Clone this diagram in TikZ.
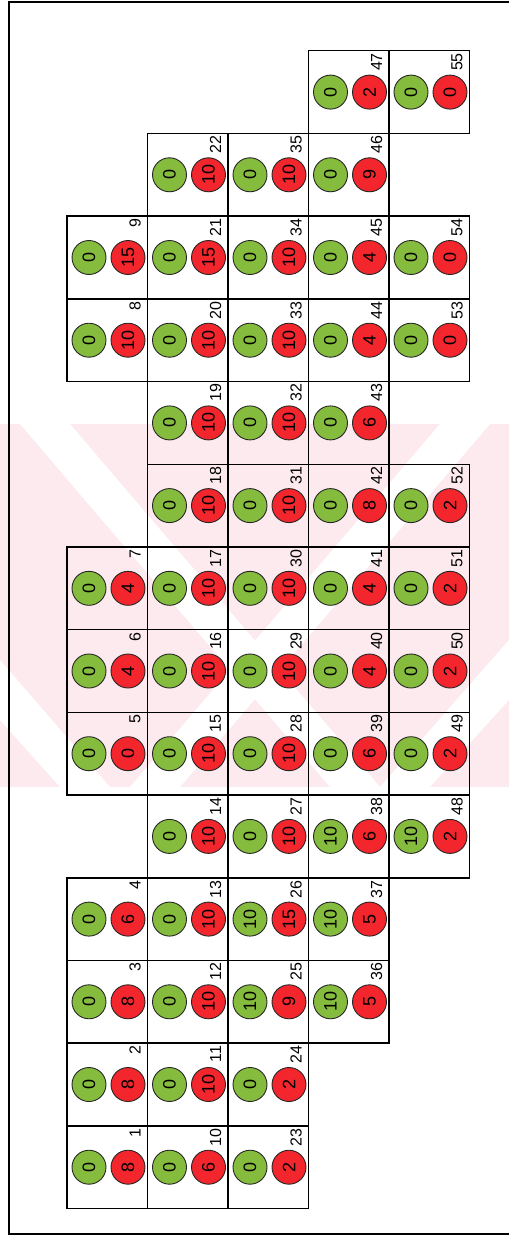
\documentclass[tikz,border=0pt]{standalone}
\usepackage{fontspec}
\setmainfont{Liberation Sans}
\definecolor{dotgreen}{RGB}{134,188,62}
\definecolor{dotred}{RGB}{242,38,44}
\definecolor{wmpink}{RGB}{252,234,238}
\tikzset{
  cellbox/.style={draw=black, line width=1.5pt, minimum width=80.5pt, minimum height=82.7pt, inner sep=0pt, anchor=north west},
  gdot/.style={circle, draw=black!85, line width=0.9pt, fill=dotgreen, minimum size=34pt, inner sep=0pt, rotate=90, font=\fontsize{18}{18}\selectfont},
  rdot/.style={circle, draw=black!85, line width=0.9pt, fill=dotred, minimum size=34pt, inner sep=0pt, rotate=90, font=\fontsize{18}{18}\selectfont},
  numlab/.style={rotate=90, anchor=east, inner sep=0pt, font=\fontsize{16}{16}\selectfont}
}
\begin{document}
\begin{tikzpicture}[x=1pt,y=-1pt]
\useasboundingbox (0,0) rectangle (509,1236);
% watermark
\begin{scope}
\clip (0,424) rectangle (509,787);
\fill[wmpink] (0,424) rectangle (509,787);
\fill[white] (20,424) -- (70,424) -- (380,787) -- (330,787) -- cycle;
\fill[white] (440,424) -- (490,424) -- (180,787) -- (130,787) -- cycle;
\fill[white] (0,660) -- (0,720) -- (60,787) -- (110,787) -- cycle;
\fill[white] (509,640) -- (509,700) -- (430,787) -- (380,787) -- cycle;
\end{scope}
% frame
\draw[line width=1.5pt] (509,2) -- (9,2) -- (9,1234) -- (509,1234);
% cells
\foreach \c/\r/\n/\g/\rd in {
 1/2/9/0/15, 1/3/8/0/10, 1/6/7/0/4, 1/7/6/0/4, 1/8/5/0/0, 1/10/4/0/6, 1/11/3/0/8, 1/12/2/0/8, 1/13/1/0/8,
 2/1/22/0/10, 2/2/21/0/15, 2/3/20/0/10, 2/4/19/0/10, 2/5/18/0/10, 2/6/17/0/10, 2/7/16/0/10, 2/8/15/0/10, 2/9/14/0/10, 2/10/13/0/10, 2/11/12/0/10, 2/12/11/0/10, 2/13/10/0/6,
 3/1/35/0/10, 3/2/34/0/10, 3/3/33/0/10, 3/4/32/0/10, 3/5/31/0/10, 3/6/30/0/10, 3/7/29/0/10, 3/8/28/0/10, 3/9/27/0/10, 3/10/26/10/15, 3/11/25/10/9, 3/12/24/0/2, 3/13/23/0/2,
 4/0/47/0/2, 4/1/46/0/9, 4/2/45/0/4, 4/3/44/0/4, 4/4/43/0/6, 4/5/42/0/8, 4/6/41/0/4, 4/7/40/0/4, 4/8/39/0/6, 4/9/38/10/6, 4/10/37/10/5, 4/11/36/10/5,
 5/0/55/0/0, 5/2/54/0/0, 5/3/53/0/0, 5/5/52/0/2, 5/6/51/0/2, 5/7/50/0/2, 5/8/49/0/2, 5/9/48/10/2}{
  \pgfmathsetmacro\xl{66+80.5*(\c-1)}
  \pgfmathsetmacro\yt{50+82.7*\r}
  \node[cellbox] (c\n) at (\xl,\yt) {};
  \node[gdot] (g\n) at ([xshift=23pt]c\n.west) {\g};
  \node[rdot] (r\n) at ([xshift=62pt]c\n.west) {\rd};
  \node[numlab] (l\n) at ([xshift=69pt,yshift=-3pt]c\n.north west) {\n};
}
\end{tikzpicture}
\end{document}
